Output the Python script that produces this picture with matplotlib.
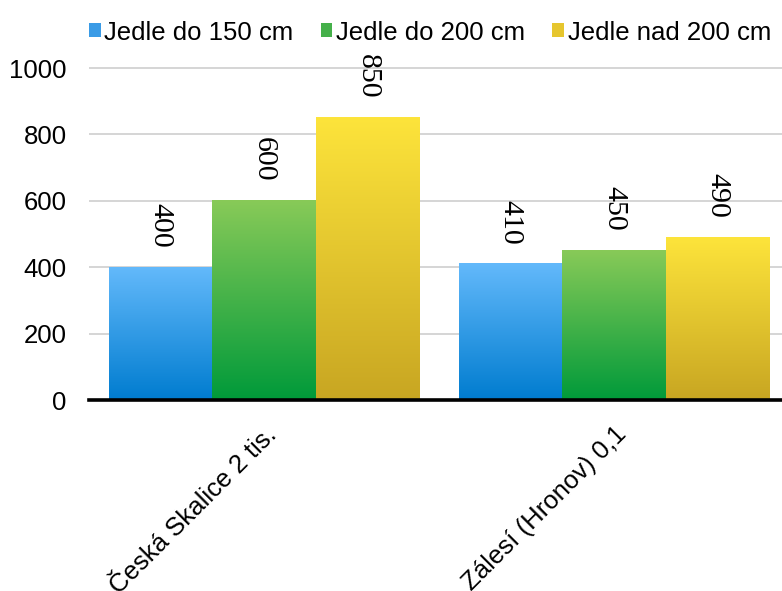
import numpy as np
import matplotlib
matplotlib.use("Agg")
import matplotlib.pyplot as plt
from matplotlib.colors import LinearSegmentedColormap
from matplotlib.patches import Patch

plt.rcParams['font.family'] = ['Liberation Sans', 'DejaVu Sans']

# data
places = ["Česká Skalice 2 tis.", "Zálesí (Hronov) 0,1"]
series = ["Jedle do 150 cm", "Jedle do 200 cm", "Jedle nad 200 cm"]
do150 = [400, 410]
do200 = [600, 450]
nad200 = [850, 490]

# gradient colours (bottom, top) per series
grad = [("#007ccf", "#63b9fb"), ("#009a3a", "#88ca58"), ("#c8a622", "#fde43b")]
legend_cols = ["#3a9be6", "#45b04a", "#e6c62e"]

fig = plt.figure(figsize=(7.82, 5.91), dpi=100)
W, H = 782, 591
ax = fig.add_axes([89 / W, (H - 400) / H, (W - 89) / W, (400 - 61.4) / H])

x = np.arange(len(places))
bw = 0.296
vals = [do150, do200, nad200]
for i, v in enumerate(vals):
    bars = ax.bar(x + (i - 1) * bw, v, bw, color='none', edgecolor='none', zorder=2)
    cmap = LinearSegmentedColormap.from_list("g%d" % i, grad[i])
    for p, val in zip(bars, v):
        x0 = p.get_x()
        ax.imshow(np.linspace(0, 1, 256).reshape(-1, 1), cmap=cmap, origin='lower',
                  extent=(x0, x0 + p.get_width(), 0, p.get_height()), aspect='auto', zorder=2)
        ax.annotate(str(val), (x0 + p.get_width() / 2, val), xytext=(0, 14),
                    textcoords='offset points', rotation=270, ha='center', va='bottom',
                    fontsize=21.5, family='Liberation Serif')

ax.set_xlim(-0.5, -0.5 + (W - 89) / 350)
ax.set_ylim(0, 1020)
ax.set_yticks([0, 200, 400, 600, 800, 1000])
ax.tick_params(axis='y', length=0, pad=16, labelsize=18.5)
ax.yaxis.grid(True, color='#d2d2d2', lw=1.3, zorder=0)
ax.set_axisbelow(True)
ax.axhline(0, color='black', lw=2.6, zorder=4, clip_on=False)
for s in ax.spines.values():
    s.set_visible(False)

ax.set_xticks(x)
ax.set_xticklabels(places, rotation=45, ha='right', rotation_mode='anchor', fontsize=18.5)
ax.tick_params(axis='x', length=0, pad=16)

handles = [Patch(facecolor=c, edgecolor='none', label=s) for s, c in zip(series, legend_cols)]
fig.legend(handles=handles, loc='upper center', bbox_to_anchor=(430 / W, 1.0), ncol=3,
           frameon=False, fontsize=18.5, handlelength=0.45, handleheight=0.45,
           handletextpad=0.15, columnspacing=1.05, borderpad=0.3)

fig.savefig("out.png", dpi=100)
